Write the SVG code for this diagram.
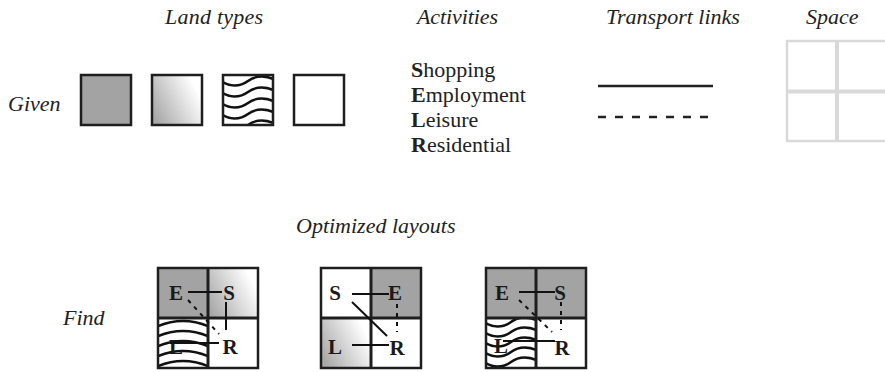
<svg xmlns="http://www.w3.org/2000/svg" width="885" height="372" viewBox="0 0 885 372">
<style>
.h{font-family:'Liberation Serif','DejaVu Serif',serif;font-style:italic;font-size:22px;fill:#222}
.act{font-family:'Liberation Serif','DejaVu Serif',serif;font-size:22px;fill:#222}
.lt{font-family:'Liberation Serif','DejaVu Serif',serif;font-weight:bold;font-size:21px;fill:#1a1a1a;text-anchor:middle}
.box{stroke:#1e1e1e;stroke-width:2.5}
.dark{fill:#a3a3a3}
.white{fill:#fff}
.wave{fill:none;stroke:#111;stroke-width:2.5}
.div{stroke:#1e1e1e;stroke-width:3;fill:none}
.con{stroke:#111;stroke-width:2;fill:none}
.dash{stroke:#111;stroke-width:2;fill:none;stroke-dasharray:4 5}
.grid{stroke:#d9d9d9;fill:none}
</style>
<defs>
<linearGradient id="grad" x1="0" y1="0.75" x2="1" y2="0.25">
<stop offset="0" stop-color="#a8a8a8"/>
<stop offset="0.9" stop-color="#ffffff"/>
</linearGradient>
<clipPath id="c1"><rect x="223" y="75" width="50" height="50"/></clipPath>
<clipPath id="c2"><rect x="158" y="318" width="50" height="50"/></clipPath>
<clipPath id="c3"><rect x="486" y="318" width="50" height="50"/></clipPath>
<path id="sine" d="M-2,0 C6,6 17,6 25,0 S44,-6 54,0"/>
<path id="arc" d="M-2,4 Q25,-8 52,4"/>
</defs>

<!-- headings -->
<text class="h" x="165" y="24" textLength="98">Land types</text>
<text class="h" x="417" y="24" textLength="81">Activities</text>
<text class="h" x="606" y="24">Transport links</text>
<text class="h" x="806" y="24">Space</text>
<text class="h" x="8" y="111">Given</text>
<text class="h" x="296" y="233">Optimized layouts</text>
<text class="h" x="63" y="325">Find</text>

<!-- given land types -->
<g id="land-dark"><rect class="box dark" x="81" y="75" width="50" height="50"/></g>
<g id="land-gradient"><rect class="box" fill="url(#grad)" x="152" y="75" width="50" height="50"/></g>
<g id="land-wave">
<rect class="white" x="223" y="75" width="50" height="50"/>
<g clip-path="url(#c1)" class="wave">
<use href="#sine" x="223" y="81"/>
<use href="#sine" x="223" y="92"/>
<use href="#sine" x="223" y="103"/>
<use href="#sine" x="223" y="114"/>
<use href="#sine" x="223" y="125"/>
</g>
<rect class="box" fill="none" x="223" y="75" width="50" height="50"/>
</g>
<g id="land-white"><rect class="box white" x="294" y="75" width="50" height="50"/></g>

<!-- activities -->
<g id="activities">
<text class="act" x="411" y="77"><tspan font-weight="bold">S</tspan>hopping</text>
<text class="act" x="411" y="102"><tspan font-weight="bold">E</tspan>mployment</text>
<text class="act" x="411" y="127"><tspan font-weight="bold">L</tspan>eisure</text>
<text class="act" x="411" y="152"><tspan font-weight="bold">R</tspan>esidential</text>
</g>

<!-- transport links -->
<g id="transport">
<line x1="598" y1="86" x2="713" y2="86" stroke="#222" stroke-width="2.5"/>
<line x1="598" y1="117" x2="709" y2="117" stroke="#222" stroke-width="2.5" stroke-dasharray="8 9"/>
</g>

<!-- space -->
<g id="space">
<rect class="grid" x="787" y="41" width="100" height="100" stroke-width="2.5"/>
<line class="grid" x1="837" y1="41" x2="837" y2="141" stroke-width="4"/>
<line class="grid" x1="787" y1="91.5" x2="887" y2="91.5" stroke-width="4"/>
</g>

<!-- layout 1 -->
<g id="layout1">
<rect class="dark" x="158" y="268" width="50" height="50"/>
<rect fill="url(#grad)" x="208" y="268" width="50" height="50"/>
<rect class="white" x="158" y="318" width="50" height="50"/>
<rect class="white" x="208" y="318" width="50" height="50"/>
<g clip-path="url(#c2)" class="wave">
<use href="#arc" x="158" y="323"/>
<use href="#arc" x="158" y="333"/>
<use href="#arc" x="158" y="343"/>
<use href="#arc" x="158" y="353"/>
<use href="#arc" x="158" y="363"/>
</g>
<rect class="box" fill="none" x="158" y="268" width="100" height="100"/>
<line class="div" x1="208" y1="268" x2="208" y2="368"/>
<line class="div" x1="158" y1="318" x2="258" y2="318"/>
<text class="lt" x="176" y="300">E</text>
<text class="lt" x="229" y="300">S</text>
<text class="lt" x="176" y="354">L</text>
<text class="lt" x="230" y="354">R</text>
</g>

<!-- layout 2 -->
<g id="layout2">
<rect class="white" x="321" y="268" width="50" height="50"/>
<rect class="dark" x="371" y="268" width="50" height="50"/>
<rect fill="url(#grad)" x="321" y="318" width="50" height="50"/>
<rect class="white" x="371" y="318" width="50" height="50"/>
<rect class="box" fill="none" x="321" y="268" width="100" height="100"/>
<line class="div" x1="371" y1="268" x2="371" y2="368"/>
<line class="div" x1="321" y1="318" x2="421" y2="318"/>
<text class="lt" x="335" y="300">S</text>
<text class="lt" x="395" y="300">E</text>
<text class="lt" x="335" y="354">L</text>
<text class="lt" x="397" y="355">R</text>
</g>

<!-- layout 3 -->
<g id="layout3">
<rect class="dark" x="486" y="268" width="50" height="50"/>
<rect class="dark" x="536" y="268" width="50" height="50"/>
<rect class="white" x="486" y="318" width="50" height="50"/>
<rect class="white" x="536" y="318" width="50" height="50"/>
<g clip-path="url(#c3)" class="wave">
<use href="#sine" x="486" y="322"/>
<use href="#sine" x="486" y="332"/>
<use href="#sine" x="486" y="342"/>
<use href="#sine" x="486" y="352"/>
<use href="#sine" x="486" y="362"/>
</g>
<rect class="box" fill="none" x="486" y="268" width="100" height="100"/>
<line class="div" x1="536" y1="268" x2="536" y2="368"/>
<line class="div" x1="486" y1="318" x2="586" y2="318"/>
<text class="lt" x="502" y="300">E</text>
<text class="lt" x="560" y="300">S</text>
<text class="lt" x="501" y="353">L</text>
<text class="lt" x="562" y="355">R</text>
</g>

<!-- connectors -->
<g id="connectors">
<line class="con" x1="188" y1="292" x2="222" y2="292"/>
<line class="con" x1="226" y1="302" x2="226" y2="330"/>
<line class="con" x1="170" y1="343" x2="219" y2="343"/>
<line class="dash" x1="188" y1="300" x2="219" y2="334"/>

<line class="con" x1="352" y1="294" x2="389" y2="294"/>
<line class="con" x1="352" y1="302" x2="387" y2="336"/>
<line class="con" x1="352" y1="345" x2="389" y2="345"/>
<line class="dash" x1="397" y1="304" x2="397" y2="332" stroke-dasharray="4 4"/>

<line class="con" x1="519" y1="292" x2="555" y2="292"/>
<line class="dash" x1="561" y1="302" x2="561" y2="330" stroke-dasharray="4 4"/>
<line class="con" x1="503" y1="341" x2="555" y2="341"/>
<line class="dash" x1="519" y1="300" x2="552" y2="332"/>
</g>
</svg>
